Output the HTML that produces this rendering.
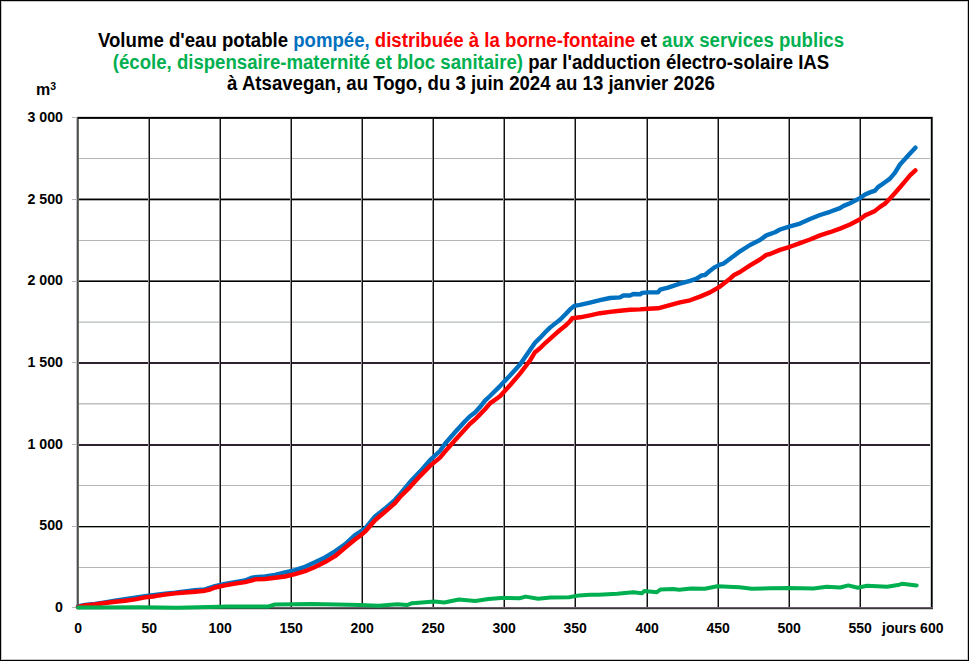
<!DOCTYPE html>
<html><head><meta charset="utf-8"><style>
html,body{margin:0;padding:0;}
body{width:969px;height:661px;overflow:hidden;background:#fff;position:relative;font-family:"Liberation Sans",sans-serif;font-weight:bold;color:#000;}
.frame{position:absolute;left:0;top:0;width:967px;height:659px;border:1px solid #000;box-shadow:inset 0 0 0 1px #c8c8c8;}
.t{position:absolute;left:0;width:942px;text-align:center;font-size:18.6px;line-height:21px;white-space:nowrap;transform:scaleY(1.07);transform-origin:50% 70%;}
.b{color:#0070C0}.r{color:#FF0000}.g{color:#00B050}
.yl{position:absolute;right:906px;font-size:14.2px;line-height:16px;white-space:nowrap;text-align:right;transform:scaleY(1.07);transform-origin:50% 12.9px}
.xl{position:absolute;width:60px;margin-left:-30px;text-align:center;font-size:14px;line-height:16px;white-space:nowrap;transform:scaleY(1.06);transform-origin:50% 12.9px}
</style></head><body>
<div class="frame"></div>

<svg width="969" height="661" viewBox="0 0 969 661" style="position:absolute;left:0;top:0">
<rect x="79" y="158" width="852" height="1" fill="#b4b4b4"/>
<rect x="79" y="240" width="852" height="1" fill="#b4b4b4"/>
<rect x="79" y="321" width="852" height="1" fill="#dadde0"/>
<rect x="79" y="322" width="852" height="1" fill="#c8cdc8"/>
<rect x="79" y="403" width="852" height="1" fill="#bcc0bc"/>
<rect x="79" y="404" width="852" height="1" fill="#dcdfdc"/>
<rect x="79" y="485" width="852" height="1" fill="#b4b4b4"/>
<rect x="79" y="567" width="852" height="1" fill="#b4b4b4"/>
<rect x="79" y="198" width="852" height="1" fill="#8a8a8a"/>
<rect x="79" y="199" width="852" height="1" fill="#000"/>
<rect x="79" y="200" width="852" height="1" fill="#b0b0b0"/>
<rect x="79" y="280" width="852" height="1" fill="#666"/>
<rect x="79" y="281" width="852" height="1" fill="#000"/>
<rect x="79" y="362" width="852" height="1" fill="#2e2230"/>
<rect x="79" y="363" width="852" height="1" fill="#2e2230"/>
<rect x="79" y="444" width="852" height="1" fill="#2e2230"/>
<rect x="79" y="445" width="852" height="1" fill="#2e2230"/>
<rect x="79" y="526" width="852" height="1" fill="#000"/>
<rect x="79" y="527" width="852" height="1" fill="#a0a8a0"/>
<rect x="148" y="119" width="1" height="488" fill="#8c8c8c"/>
<rect x="149" y="119" width="1" height="488" fill="#111"/>
<rect x="219" y="119" width="1" height="488" fill="#8c8c8c"/>
<rect x="220" y="119" width="1" height="488" fill="#111"/>
<rect x="290" y="119" width="1" height="488" fill="#8c8c8c"/>
<rect x="291" y="119" width="1" height="488" fill="#111"/>
<rect x="361" y="119" width="1" height="488" fill="#8c8c8c"/>
<rect x="362" y="119" width="1" height="488" fill="#111"/>
<rect x="432" y="119" width="1" height="488" fill="#8c8c8c"/>
<rect x="433" y="119" width="1" height="488" fill="#111"/>
<rect x="503" y="119" width="1" height="488" fill="#8c8c8c"/>
<rect x="504" y="119" width="1" height="488" fill="#111"/>
<rect x="574" y="119" width="1" height="488" fill="#8c8c8c"/>
<rect x="575" y="119" width="1" height="488" fill="#111"/>
<rect x="646" y="119" width="1" height="488" fill="#8c8c8c"/>
<rect x="647" y="119" width="1" height="488" fill="#111"/>
<rect x="717" y="119" width="1" height="488" fill="#8c8c8c"/>
<rect x="718" y="119" width="1" height="488" fill="#111"/>
<rect x="788" y="119" width="1" height="488" fill="#8c8c8c"/>
<rect x="789" y="119" width="1" height="488" fill="#111"/>
<rect x="859" y="119" width="1" height="488" fill="#8c8c8c"/>
<rect x="860" y="119" width="1" height="488" fill="#111"/>
<rect x="72" y="117" width="5" height="1" fill="#b8b8b8"/>
<rect x="72" y="199" width="5" height="1" fill="#b8b8b8"/>
<rect x="72" y="281" width="5" height="1" fill="#b8b8b8"/>
<rect x="72" y="362" width="5" height="1" fill="#b8b8b8"/>
<rect x="72" y="444" width="5" height="1" fill="#b8b8b8"/>
<rect x="72" y="526" width="5" height="1" fill="#b8b8b8"/>
<rect x="72" y="607" width="5" height="1" fill="#b8b8b8"/>
<rect x="77" y="116" width="856" height="1" fill="#e4dce4"/>
<rect x="77" y="117" width="856" height="1" fill="#000"/>
<rect x="77" y="118" width="856" height="1" fill="#1c1c1c"/>
<rect x="930" y="119" width="1" height="488" fill="#c8d0c8"/>
<rect x="931" y="117" width="1" height="492" fill="#000"/>
<rect x="932" y="117" width="1" height="492" fill="#4c4c54"/>
<rect x="76" y="117" width="1" height="492" fill="#c4bcc8"/>
<rect x="77" y="117" width="1" height="492" fill="#485048"/>
<rect x="78" y="119" width="1" height="488" fill="#687068"/>
<rect x="77" y="607" width="856" height="1" fill="#6a5a6a"/>
<rect x="77" y="608" width="856" height="1" fill="#383c38"/>
<rect x="77" y="609" width="856" height="1" fill="#d4d0d0"/>
<path d="M78.0 606.5 L85.0 605.0 L95.0 603.9 L105.0 602.3 L115.0 600.6 L125.0 599.3 L135.0 597.8 L145.0 596.2 L155.0 594.9 L165.0 593.6 L175.0 592.7 L185.0 591.4 L195.0 590.2 L205.0 589.4 L215.0 586.1 L225.0 583.8 L235.0 582.2 L245.0 580.5 L252.2 577.6 L255.0 577.2 L265.0 576.4 L275.0 574.8 L285.0 572.3 L295.0 570.2 L305.0 566.8 L315.0 562.3 L325.0 557.4 L335.0 551.3 L345.0 544.4 L355.0 535.0 L365.0 528.6 L375.0 516.4 L385.0 508.6 L395.0 499.8 L400.0 494.2 L410.0 482.1 L420.0 471.6 L430.0 460.2 L440.0 451.0 L445.0 443.7 L455.0 432.3 L465.0 421.2 L470.0 416.2 L475.0 412.5 L480.0 407.1 L485.0 400.7 L490.0 396.0 L500.0 386.1 L510.0 375.5 L520.0 364.5 L530.0 350.0 L535.0 342.8 L540.0 337.9 L545.0 332.5 L550.0 327.6 L555.0 323.6 L560.0 319.7 L565.0 314.8 L570.0 309.4 L574.3 305.9 L580.0 304.8 L590.0 302.6 L600.0 300.2 L610.0 298.0 L620.0 297.4 L623.3 295.5 L630.0 295.5 L633.3 294.0 L640.0 294.3 L642.2 292.9 L648.0 292.4 L658.0 292.4 L660.2 289.7 L668.0 287.6 L680.0 283.7 L690.0 280.8 L696.6 278.7 L701.6 275.4 L705.0 275.0 L710.0 270.8 L715.0 267.1 L720.0 264.6 L723.3 263.7 L730.0 258.7 L734.1 255.8 L740.0 251.3 L750.0 245.0 L760.0 240.0 L766.3 235.4 L775.0 232.2 L780.0 229.5 L790.0 226.3 L800.0 223.6 L810.0 219.0 L820.0 215.0 L830.0 211.8 L840.0 208.1 L843.6 205.9 L850.0 203.2 L860.0 198.1 L865.0 194.5 L870.0 192.4 L875.0 190.6 L878.0 187.1 L885.0 182.2 L890.0 178.6 L895.0 172.7 L900.0 164.5 L905.0 159.1 L910.0 153.6 L915.4 147.7" fill="none" stroke="#0070C0" stroke-width="4.4" stroke-linejoin="round" stroke-linecap="round"/>
<path d="M78.0 607.0 L85.0 605.5 L95.0 604.5 L105.0 603.0 L115.0 601.7 L125.0 600.7 L135.0 599.4 L145.0 597.4 L155.0 596.2 L165.0 594.6 L175.0 593.4 L185.0 592.5 L195.0 591.7 L205.0 590.7 L210.0 589.5 L215.0 587.5 L225.0 585.3 L235.0 583.7 L245.0 582.1 L252.2 580.4 L255.0 579.4 L265.0 579.0 L275.0 577.8 L285.0 576.5 L295.0 574.2 L305.0 571.2 L315.0 566.9 L325.0 562.1 L335.0 556.2 L345.0 547.7 L355.0 539.5 L361.6 534.7 L365.0 531.7 L375.0 520.2 L385.0 511.8 L395.0 503.1 L400.0 497.0 L410.0 487.1 L420.0 476.1 L430.0 465.9 L440.0 457.6 L445.0 451.6 L455.0 440.3 L465.0 429.3 L470.0 423.7 L475.0 419.5 L480.0 414.4 L485.0 409.2 L490.0 403.4 L500.0 396.3 L510.0 385.3 L520.0 373.6 L530.0 360.5 L535.0 352.2 L540.0 348.2 L545.0 343.3 L550.0 338.9 L555.0 334.4 L560.0 330.0 L565.0 326.1 L570.0 321.2 L572.3 318.2 L580.0 317.3 L590.0 315.3 L600.0 313.2 L610.0 311.9 L620.0 310.7 L630.0 309.8 L640.0 309.4 L648.0 308.8 L658.0 308.3 L668.0 305.6 L680.0 302.4 L690.0 300.3 L700.0 296.6 L710.0 292.4 L720.0 286.6 L730.0 278.7 L734.1 275.0 L740.0 272.0 L750.0 265.4 L760.0 259.5 L766.3 254.9 L770.0 254.0 L780.0 249.9 L790.0 246.8 L800.0 243.1 L810.0 239.5 L820.0 235.4 L830.0 232.2 L840.0 228.6 L850.0 224.5 L860.0 219.3 L865.0 215.4 L870.0 213.3 L875.0 210.9 L880.0 206.9 L885.0 203.6 L890.0 198.5 L895.0 193.0 L900.0 187.2 L905.0 181.3 L910.0 175.4 L915.4 170.4" fill="none" stroke="#FF0000" stroke-width="4.4" stroke-linejoin="round" stroke-linecap="round"/>
<path d="M78.0 607.5 L140.0 607.3 L177.0 607.7 L219.3 606.7 L226.7 606.6 L260.0 606.6 L268.6 606.4 L274.8 604.5 L311.9 604.1 L349.0 604.8 L360.0 605.1 L378.6 605.7 L397.2 604.3 L407.0 605.1 L412.0 603.2 L421.9 602.5 L434.3 601.4 L444.2 602.5 L459.0 599.5 L475.2 601.0 L488.6 599.1 L501.0 597.9 L519.5 598.2 L525.7 596.6 L538.1 598.7 L550.5 597.5 L569.1 597.2 L579.0 595.4 L590.0 594.8 L598.6 594.7 L617.2 593.7 L633.3 592.2 L641.9 593.2 L644.4 591.0 L656.8 592.2 L660.5 589.5 L672.9 589.1 L679.1 589.8 L691.5 588.5 L704.9 588.8 L717.2 586.3 L739.5 587.3 L751.9 588.8 L770.5 588.3 L789.1 587.9 L813.4 588.5 L826.8 586.7 L840.2 587.5 L848.3 585.4 L857.7 587.8 L867.1 585.8 L887.2 586.7 L897.9 585.1 L902.0 583.8 L916.7 585.4" fill="none" stroke="#00B050" stroke-width="4" stroke-linejoin="round" stroke-linecap="round"/>
</svg>
<div class="t" style="top:30px">Volume d'eau potable <span class="b">pompée,</span> <span class="r">distribuée à la borne-fontaine</span> et <span class="g">aux services publics</span></div>
<div class="t" style="top:51.5px"><span class="g">(école, dispensaire-maternité et bloc sanitaire)</span> par l'adduction électro-solaire IAS</div>
<div class="t" style="top:73px">à Atsavegan, au Togo, du 3 juin 2024 au 13 janvier 2026</div>
<div style="position:absolute;left:36px;top:81px;font-size:16px;line-height:18px;white-space:nowrap">m<span style="font-size:10.5px;position:relative;top:-5px;margin-left:0px">3</span></div>
<div class="yl" style="top:109.0px">3 000</div>
<div class="yl" style="top:190.7px">2 500</div>
<div class="yl" style="top:272.3px">2 000</div>
<div class="yl" style="top:354.0px">1 500</div>
<div class="yl" style="top:435.7px">1 000</div>
<div class="yl" style="top:517.3px">500</div>
<div class="yl" style="top:599.0px">0</div>
<div class="xl" style="left:78.2px;top:620px">0</div>
<div class="xl" style="left:149.2px;top:620px">50</div>
<div class="xl" style="left:220.2px;top:620px">100</div>
<div class="xl" style="left:291.2px;top:620px">150</div>
<div class="xl" style="left:362.2px;top:620px">200</div>
<div class="xl" style="left:433.2px;top:620px">250</div>
<div class="xl" style="left:504.2px;top:620px">300</div>
<div class="xl" style="left:575.2px;top:620px">350</div>
<div class="xl" style="left:647.2px;top:620px">400</div>
<div class="xl" style="left:718.2px;top:620px">450</div>
<div class="xl" style="left:789.2px;top:620px">500</div>
<div class="xl" style="left:860.2px;top:620px">550</div>
<div style="position:absolute;left:882px;top:620px;font-size:14px;line-height:16px;white-space:nowrap;transform:scaleY(1.06);transform-origin:50% 12.9px">jours 600</div>
</body></html>
